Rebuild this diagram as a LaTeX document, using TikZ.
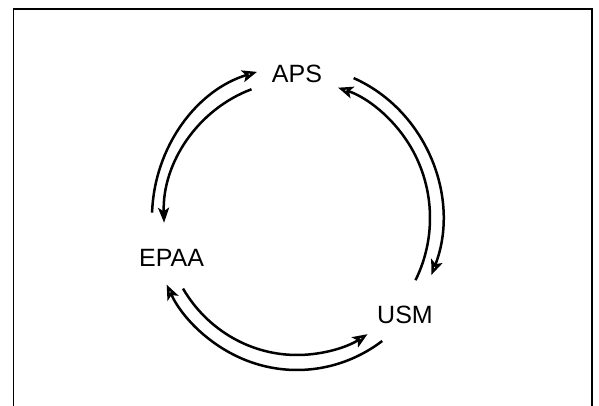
\documentclass[tikz,border=0pt]{standalone}
\usepackage{fontspec}
\setmainfont{Liberation Sans}
\usetikzlibrary{arrows.meta, positioning}

\begin{document}
\begin{tikzpicture}[
    x=1pt, y=1pt,
    label/.style={
      inner sep=0pt,
      font=\fontsize{25}{30}\selectfont
    },
    flow/.style={
      line width=2.5pt,
      -{Stealth[open, length=15pt, width=12pt, inset=3.5pt]}
    },
    flowsolid/.style={
      line width=2.5pt,
      -{Stealth[length=15pt, width=11pt, inset=3.5pt]}
    }
  ]
  \useasboundingbox (0,0) rectangle (599,406);

  % Khung ngoai (bo trong o duoi)
  \draw[line width=1.3pt] (13.5,0) -- (13.5,397) -- (592,397) -- (592,0);

  % Tam vong tron
  \coordinate (c) at (297,188);

  % Cac node
  \node[label] (aps) at (297,332) {APS};
  \node[label] (epaa) at (171.5,148.5) {EPAA};
  \node[label] (usm) at (405,91) {USM};

  % Vong ngoai - theo chieu kim dong ho
  \draw[flow] ([shift={(178:145pt and 152pt)}]c)
    arc[start angle=178, end angle=106, x radius=145pt, y radius=152pt]; % EPAA -> APS
  \draw[flow] ([shift={(67:145pt and 152pt)}]c)
    arc[start angle=67, end angle=-22, x radius=145pt, y radius=152pt]; % APS -> USM
  \draw[flow] ([shift={(-54:145pt and 152pt)}]c)
    arc[start angle=-54, end angle=-154, x radius=145pt, y radius=152pt]; % USM -> EPAA

  % Vong trong - nguoc chieu kim dong ho
  \draw[flowsolid] ([shift={(110:133pt and 137pt)}]c)
    arc[start angle=110, end angle=182, x radius=133pt, y radius=137pt]; % APS -> EPAA
  \draw[flow] ([shift={(-149:133pt and 137pt)}]c)
    arc[start angle=-149, end angle=-58, x radius=133pt, y radius=137pt]; % EPAA -> USM
  \draw[flow] ([shift={(-27:133pt and 137pt)}]c)
    arc[start angle=-27, end angle=72, x radius=133pt, y radius=137pt]; % USM -> APS

\end{tikzpicture}
\end{document}
